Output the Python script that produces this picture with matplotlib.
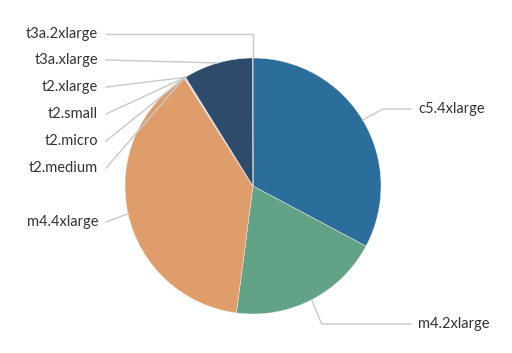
import numpy as np
import matplotlib.pyplot as plt

# ------------------------- Data -------------------------
labels = ["c5.4xlarge", "m4.2xlarge", "m4.4xlarge", "t2.medium", "t2.micro",
          "t2.small", "t2.xlarge", "t3a.xlarge", "t3a.2xlarge"]
values = [118.0, 69.4, 140.0, 0.15, 0.15, 0.15, 0.3, 31.6, 0.15]
colors = ["#2b6d9b", "#62a387", "#e09d6c", "#c9b27a", "#9fb07f",
          "#7d9f8a", "#5a7f93", "#2f4b6b", "#3a5a80"]

# ------------------------- Layout (pixels) -------------------------
W, H = 512, 353
cx, cy, R = 253, H - 186, 128

# label anchor (x, y in px from top), side
label_pos = {
    "c5.4xlarge": (418, 109, "left"),
    "m4.2xlarge": (418, 324, "left"),
    "m4.4xlarge": (98, 222, "right"),
    "t2.medium": (98, 168, "right"),
    "t2.micro": (98, 141, "right"),
    "t2.small": (98, 114, "right"),
    "t2.xlarge": (98, 87, "right"),
    "t3a.xlarge": (98, 60, "right"),
    "t3a.2xlarge": (98, 34, "right"),
}

fig = plt.figure(figsize=(W / 100, H / 100), dpi=100)
ax = fig.add_axes([0, 0, 1, 1])

wedges, _ = ax.pie(values, colors=colors, startangle=90, counterclock=False,
                   center=(cx, cy), radius=R,
                   wedgeprops=dict(edgecolor="#f4f0e8", linewidth=0.3))

line_c = "#c8c8c8"
for w, lab in zip(wedges, labels):
    ang = np.deg2rad((w.theta1 + w.theta2) / 2)
    px, py = cx + R * np.cos(ang), cy + R * np.sin(ang)
    lx, ly_top, side = label_pos[lab]
    ly = H - ly_top
    if side == "left":
        # elbow then horizontal
        if ly > py:
            ex, ey = px + 20, ly
        else:
            ex, ey = px + 10, ly
        ax.plot([px, ex, lx - 7], [py, ey, ly], color=line_c, lw=1)
    else:
        if lab == "t3a.2xlarge":
            ax.plot([px, px, lx + 8], [py, ly, ly], color=line_c, lw=1)
        else:
            ax.plot([px, lx + 8], [py, ly], color=line_c, lw=1)
    ax.text(lx, ly, lab, ha=side, va="center", fontsize=10.5,
            family=["Lato", "DejaVu Sans"], color="#333333")

ax.set_xlim(0, W)
ax.set_ylim(0, H)
ax.set_aspect("equal")
ax.axis("off")

fig.savefig("out.png", dpi=100)
